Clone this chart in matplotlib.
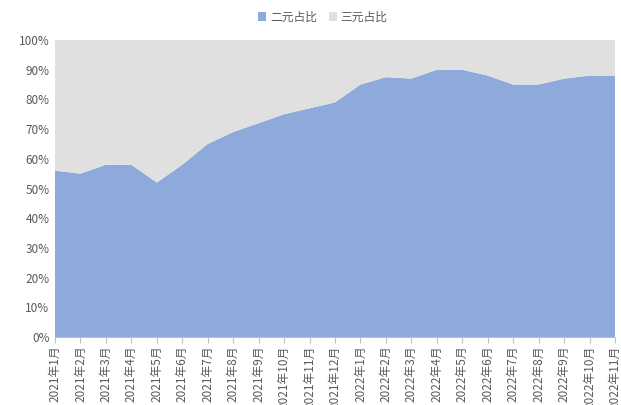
import matplotlib
matplotlib.use("Agg")
import matplotlib.pyplot as plt
import numpy as np
from matplotlib.ticker import PercentFormatter

plt.rcParams['font.family'] = ['Noto Sans CJK SC', 'DejaVu Sans']

months = ["2021年1月", "2021年2月", "2021年3月", "2021年4月", "2021年5月", "2021年6月",
          "2021年7月", "2021年8月", "2021年9月", "2021年10月", "2021年11月", "2021年12月",
          "2022年1月", "2022年2月", "2022年3月", "2022年4月", "2022年5月", "2022年6月",
          "2022年7月", "2022年8月", "2022年9月", "2022年10月", "2022年11月"]
binary_share = [56, 55, 58, 58, 52, 58, 65, 69, 72, 75, 77, 79,
                85, 87.5, 87, 90, 90, 88, 85, 85, 87, 88, 88]
ternary_share = [100 - v for v in binary_share]

blue = "#8eaadb"
gray = "#e0e0e0"
txt = "#595959"

fig = plt.figure(figsize=(6.21, 4.05), dpi=100)
ax = fig.add_axes([55/621, 68/405, 560/621, 297/405])

x = np.arange(len(months))
ax.stackplot(x, binary_share, ternary_share, colors=[blue, gray],
             labels=["二元占比", "三元占比"], linewidth=0)

ax.set_xlim(0, len(months) - 1)
ax.set_ylim(0, 100)
ax.set_yticks(np.arange(0, 101, 10))
ax.yaxis.set_major_formatter(PercentFormatter(decimals=0))
ax.set_xticks(x)
ax.set_xticklabels(months, rotation=90, va="top", ha="center")

for s in ["top", "right", "left"]:
    ax.spines[s].set_visible(False)
ax.spines["bottom"].set_color("#bfbfbf")
ax.tick_params(axis="y", length=0, labelsize=8.5, colors=txt, pad=4)
ax.tick_params(axis="x", length=4, color="#bfbfbf", labelsize=8.5, colors=txt, pad=2)

leg = fig.legend(loc="upper center", bbox_to_anchor=(0.52, 1.0), ncol=2, frameon=False,
                 fontsize=8.5, handlelength=0.7, handleheight=0.7, handletextpad=0.3,
                 columnspacing=1.0, labelcolor=txt)

fig.savefig("out.png", dpi=100)
